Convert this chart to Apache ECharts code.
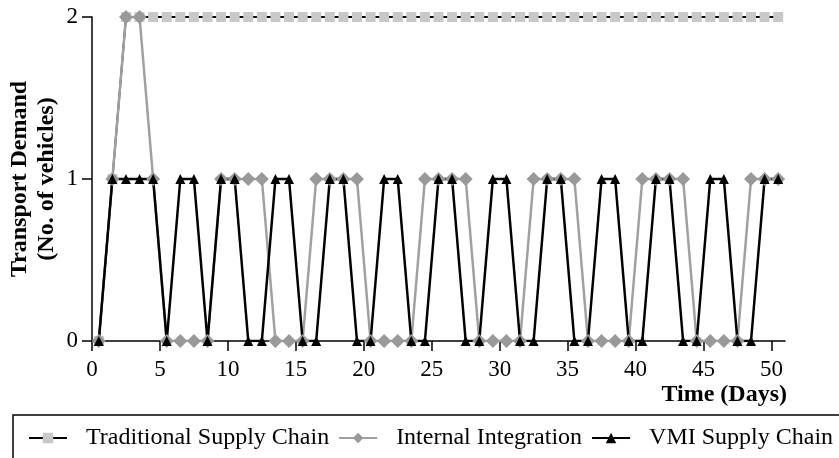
<!DOCTYPE html>
<html>
  <head>
    <meta charset="utf-8" />
    <script src="https://cdn.jsdelivr.net/npm/echarts@6.0.0/dist/echarts.min.js"></script>
  </head>
  <body style="margin: 0">
    <div id="main" style="width: 839px; height: 458px"></div>

    <script type="text/javascript">
      // daily transport demand, one value per day (plotted mid-day)
      const traditional = [0, 1, 2, 2, 2, 2, 2, 2, 2, 2, 2, 2, 2, 2, 2, 2, 2,
        2, 2, 2, 2, 2, 2, 2, 2, 2, 2, 2, 2, 2, 2, 2, 2, 2, 2, 2, 2, 2, 2, 2,
        2, 2, 2, 2, 2, 2, 2, 2, 2, 2, 2];
      const internal = [0, 1, 2, 2, 1, 0, 0, 0, 0, 1, 1, 1, 1, 0, 0, 0, 1,
        1, 1, 1, 0, 0, 0, 0, 1, 1, 1, 1, 0, 0, 0, 0, 1, 1, 1, 1, 0, 0, 0, 0,
        1, 1, 1, 1, 0, 0, 0, 0, 1, 1, 1];
      const vmi = [0, 1, 1, 1, 1, 0, 1, 1, 0, 1, 1, 0, 0, 1, 1, 0, 0,
        1, 1, 0, 0, 1, 1, 0, 0, 1, 1, 0, 0, 1, 1, 0, 0, 1, 1, 0, 0, 1, 1, 0,
        0, 1, 1, 0, 0, 1, 1, 0, 0, 1, 1];
      const xTicks = [0, 5, 10, 15, 20, 25, 30, 35, 40, 45, 50];
      const seriesNames = ["Traditional Supply Chain", "Internal Integration", "VMI Supply Chain"];

      const pairs = (arr) => arr.map((v, i) => [i + 0.5, v]);
      const font = "Liberation Serif";

      var option = {
        animation: false,
        grid: {
          left: 92,
          right: 54,
          top: 17,
          bottom: 117,
          containLabel: false,
          outerBoundsMode: "none",
        },
        xAxis: {
          type: "value",
          min: 0,
          max: 51,
          interval: 5,
          splitLine: { show: false },
          axisLine: { lineStyle: { color: "#000", width: 1.5 } },
          axisTick: { length: 10, customValues: xTicks, lineStyle: { color: "#000", width: 1.5 } },
          axisLabel: {
            customValues: xTicks,
            color: "#000",
            fontFamily: font,
            fontSize: 23,
            margin: 17,
          },
        },
        yAxis: {
          type: "value",
          min: 0,
          max: 2,
          interval: 1,
          splitLine: { show: false },
          axisLine: { show: true, lineStyle: { color: "#000", width: 1.5 } },
          axisTick: { show: true, length: 10, lineStyle: { color: "#000", width: 1.5 } },
          axisLabel: { color: "#000", fontFamily: font, fontSize: 23, margin: 14 },
          name: "Transport Demand\n(No. of vehicles)",
          nameLocation: "middle",
          nameGap: 32,
          nameMoveOverlap: false,
          nameTextStyle: {
            color: "#000",
            fontFamily: font,
            fontWeight: "bold",
            fontSize: 24,
            lineHeight: 27,
          },
        },
        legend: {
          data: seriesNames,
          left: 28,
          top: 425,
          padding: 0,
          itemWidth: 38,
          itemHeight: 13,
          itemGap: 9,
          textStyle: {
            color: "#000",
            fontFamily: font,
            fontSize: 24,
            lineHeight: 26,
            padding: [0, 0, 0, 14],
          },
        },
        graphic: [
          {
            type: "rect",
            shape: { x: 13, y: 415, width: 900, height: 100 },
            style: { fill: "none", stroke: "#000", lineWidth: 1.5 },
          },
          {
            type: "text",
            right: 52,
            top: 383,
            style: {
              text: "Time (Days)",
              fill: "#000",
              font: "bold 24px " + font,
            },
          },
        ],
        series: [
          {
            name: seriesNames[0],
            type: "line",
            data: pairs(traditional),
            symbol: "rect",
            symbolSize: 10,
            itemStyle: { color: "#c8c8c8" },
            lineStyle: { color: "#000", width: 2 },
          },
          {
            name: seriesNames[1],
            type: "line",
            data: pairs(internal),
            symbol: "diamond",
            symbolSize: 14,
            itemStyle: { color: "#999" },
            lineStyle: { color: "#a0a0a0", width: 2.5 },
          },
          {
            name: seriesNames[2],
            type: "line",
            data: pairs(vmi),
            symbol: "triangle",
            symbolSize: 10,
            itemStyle: { color: "#000" },
            lineStyle: { color: "#000", width: 2.5 },
          },
        ],
      };

      const myChart = echarts.init(document.getElementById("main"));
      myChart.setOption(option);
    </script>
  </body>
</html>
